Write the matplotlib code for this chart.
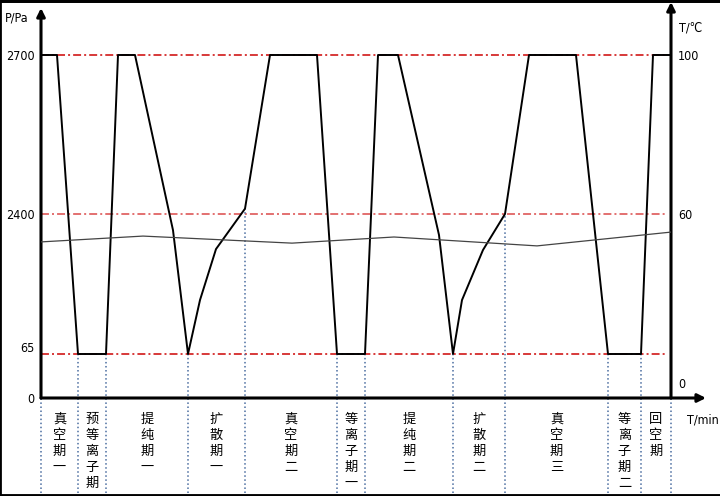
import numpy as np
import matplotlib.pyplot as plt
from matplotlib.lines import Line2D
from matplotlib.transforms import ScaledTranslation, blended_transform_factory

# pressure curve (time in min, pressure in Pa)
t_p = [0, 16, 37, 65, 77, 94, 132, 147, 159, 175, 204, 229, 276, 296, 324,
       337, 357, 398, 412, 421, 442, 464, 488, 535, 567, 600, 612, 630]
p_vals = [2700, 2700, 65, 65, 2700, 2700, 2130, 65, 965, 1815, 2410, 2700, 2700, 65, 65,
          2700, 2700, 2050, 65, 965, 1800, 2400, 2700, 2700, 65, 65, 2700, 2700]

# temperature curve
t_t = [0, 102, 251, 353, 496, 630]
temp = [50.9, 52.8, 50.5, 52.5, 49.6, 54.1]

# phases
phase_edges = [0, 37, 65, 147, 204, 296, 324, 412, 464, 567, 600, 630]
phase_names = ["真空期一", "预等离子期", "提纯期一", "扩散期一", "真空期二", "等离子期一",
               "提纯期二", "扩散期二", "真空期三", "等离子期二", "回空期"]

p_levels = [2700, 2400, 65]
level_colors = ["#d42a2a", "#e06464", "#d42a2a"]
p_ticks = [0, 65, 2400, 2700]
t_ticks = [0, 60, 100]

# the axes are not linear, map values onto drawing height
P_KNOTS = [-300, 0, 65, 2400, 2700, 3000]
H_KNOTS = [-203, 0, 44, 184, 343, 502]
T_KNOTS = [0, 60, 100, 120]
HT_KNOTS = [0, 184, 343, 422.5]


def p_fwd(v):
    return np.interp(v, P_KNOTS, H_KNOTS)


def p_inv(h):
    return np.interp(h, H_KNOTS, P_KNOTS)


def t_fwd(v):
    return np.interp(v, T_KNOTS, HT_KNOTS)


def t_inv(h):
    return np.interp(h, HT_KNOTS, T_KNOTS)


num_font = dict(family="DejaVu Sans", stretch="condensed", fontsize=9)
cjk_font = ["Noto Sans CJK SC", "DejaVu Sans"]

fig = plt.figure(figsize=(7.2, 4.96), dpi=100)
ax = fig.add_axes([41 / 720, 98 / 496, 630 / 720, 390 / 496])
ax.set_yscale("function", functions=(p_fwd, p_inv))
ax.set_xlim(0, 630)
ax.set_ylim(0, float(p_inv(390)))
for s in ax.spines.values():
    s.set_visible(False)
ax.set_xticks([])
ax.set_yticks(p_ticks, [str(v) for v in p_ticks])
ax.tick_params(axis="y", length=0, pad=4.5)
for lab in ax.get_yticklabels():
    lab.set(**num_font)

ax2 = ax.twinx()
ax2.set_yscale("function", functions=(t_fwd, t_inv))
ax2.set_ylim(0, float(t_inv(390)))
for s in ax2.spines.values():
    s.set_visible(False)
ax2.set_yticks(t_ticks, [str(v) for v in t_ticks])
ax2.tick_params(axis="y", length=0, pad=5)
for lab in ax2.get_yticklabels():
    lab.set(**num_font)

# shift "65" and right "0" a bit up like in the drawing
for tick in ax.yaxis.get_major_ticks():
    if tick.get_loc() == 65:
        tick.label1.set_transform(tick.label1.get_transform() + ScaledTranslation(0, 7 / 100, fig.dpi_scale_trans))
for tick in ax2.yaxis.get_major_ticks():
    if tick.get_loc() == 0:
        tick.label2.set_transform(tick.label2.get_transform() + ScaledTranslation(0, 15 / 100, fig.dpi_scale_trans))

# red reference levels
for lev, col in zip(p_levels, level_colors):
    ax.hlines(lev, 0, 625, colors=col, lw=1.3, linestyles=[(0, (4.4, 1.7, 1.1, 1.7))])

# phase borders
tops = np.interp(phase_edges, t_p, p_vals)
tops[0] = 0
tops[-1] = 0
ax.vlines(phase_edges, -140, tops, colors="#4a6da0", lw=1.1, linestyles=":", clip_on=False)

ax.plot(t_p, p_vals, color="black", lw=1.4, clip_on=False, zorder=5)
ax2.plot(t_t, temp, color="#444444", lw=0.9)

# axis arrows
arrow = dict(arrowstyle="-|>", lw=2.2, color="black", mutation_scale=12, shrinkA=0, shrinkB=0)
ax.annotate("", xy=(0, 1), xytext=(0, 0), xycoords="axes fraction", arrowprops=arrow)
ax.annotate("", xy=(1, 1 + 6 / 390), xytext=(1, 0), xycoords="axes fraction", arrowprops=arrow)
ax.annotate("", xy=(665 / 630, 0), xytext=(0, 0), xycoords="axes fraction", arrowprops=arrow)

# phase names, written top to bottom
trans = blended_transform_factory(ax.transData, ax.transAxes)
for i, name in enumerate(phase_names):
    mid = (phase_edges[i] + phase_edges[i + 1]) / 2
    ax.text(mid, -15 / 390, "\n".join(name), transform=trans, ha="center", va="top",
            family=cjk_font, fontsize=9.5, linespacing=1.3)

fig.text(5 / 720, 1 - 18 / 496, "P/Pa", ha="left", va="center", **num_font)
fig.text(679 / 720, 1 - 28 / 496, "T/℃", ha="left", va="center", **num_font)
fig.text(687 / 720, 1 - 420 / 496, "T/min", ha="left", va="center", **num_font)

# frame around the picture
fig.add_artist(Line2D([0, 1], [1, 1], transform=fig.transFigure, color="black", lw=4.3))
fig.add_artist(Line2D([0, 0], [0, 1], transform=fig.transFigure, color="black", lw=2))
fig.add_artist(Line2D([0, 1], [0, 0], transform=fig.transFigure, color="black", lw=3.5))

fig.savefig("out.png", dpi=100)
